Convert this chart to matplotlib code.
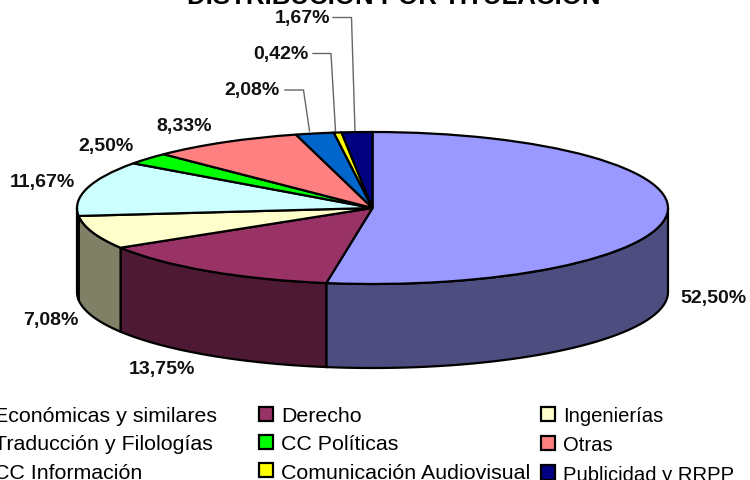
import numpy as np
import matplotlib
matplotlib.use("Agg")
import matplotlib.pyplot as plt
from matplotlib.patches import Patch, Polygon

plt.rcParams['font.family'] = ['Liberation Sans', 'DejaVu Sans']

# Datos
titulaciones = ["Económicas y similares", "Derecho", "Ingenierías", "Traducción y Filologías",
                "CC Políticas", "Otras", "CC Información", "Comunicación Audiovisual", "Publicidad y RRPP"]
porcentajes = [52.50, 13.75, 7.08, 11.67, 2.50, 8.33, 2.08, 0.42, 1.67]
colores = ["#9999FF", "#993366", "#FFFFCC", "#CCFFFF", "#00FF00", "#FF8080", "#0066CC", "#FFFF00", "#000080"]
colores_lado = ["#4D4D80", "#4D1933", "#808066", "#668080", "#008000", "#804040", "#003366", "#808000", "#000040"]

# Geometria do disco em pixeis
W, H = 750, 481
cx, cy, rx, ry = 372.5, 209, 295.5, 76
grosor = 84 / ry

fig = plt.figure(figsize=(7.5, 4.81), dpi=100)
ax = fig.add_axes([0, 0, 1, 1])

ax.pie(porcentajes, colors=colores, startangle=90, counterclock=False, radius=1,
       wedgeprops={'edgecolor': 'black', 'linewidth': 1.6, 'zorder': 3})
ax.set_aspect('auto')
ax.set_xlim(-cx / rx, (W - cx) / rx)
ax.set_ylim((cy - H) / ry, cy / ry)

# Lado do disco (so a metade de baixo)
fin = 90 - 3.6 * np.cumsum(porcentajes)
ini = fin + 3.6 * np.array(porcentajes)
for a1, a2, c in zip(ini, fin, colores_lado):
    a1, a2 = min(a1, 0), max(a2, -180)
    if a1 <= a2:
        continue
    t = np.radians(np.linspace(a1, a2, 80))
    xs = np.cos(t)
    ys = np.sin(t)
    pts = np.r_[np.c_[xs, ys], np.c_[xs[::-1], ys[::-1] - grosor]]
    ax.add_patch(Polygon(pts, closed=True, facecolor=c, edgecolor='black', linewidth=1.6, zorder=2))


def px(x, y):
    return (x - cx) / rx, (cy - y) / ry


# Etiquetas de porcentaje
pos_etiquetas = [(713, 298), (162, 370), (50.5, 320), (42.5, 183), (106, 146), (184, 126), (252, 90), (280.5, 54), (303, 18)]
for v, (x, y) in zip(porcentajes, pos_etiquetas):
    ax.text(*px(x, y), f"{v:.2f}%".replace('.', ','), ha='center', va='center',
            fontsize=14, fontweight='bold', color='#111111')

# Lineas guia
guias = [[(285, 91), (303.5, 91), (309.5, 132)], [(313, 54.5), (331, 54.5), (335.5, 132)], [(333, 18.5), (351.5, 18.5), (355, 132)]]
for pts in guias:
    q = [px(*p) for p in pts]
    ax.plot([p[0] for p in q], [p[1] for p in q], color='#666666', linewidth=1, zorder=1)

ax.text(*px(394, 3.5), "DISTRIBUCIÓN POR TITULACIÓN", ha='center', va='baseline',
        fontsize=18.6, fontweight='bold', color='black')

# Leyenda en tres columnas (a terceira tem letra mais estreita no original)
col_x = [-28, 258.5, 540.5]
col_fs = [15.4, 15.4, 14.6]
for i, (x0, fs) in enumerate(zip(col_x, col_fs)):
    h = [Patch(facecolor=colores[j], edgecolor='black', linewidth=1.6, label=titulaciones[j]) for j in range(i, 9, 3)]
    em = fs * 100 / 72
    fig.legend(handles=h, loc='upper left', bbox_to_anchor=(x0 / W, 1 - 407.3 / H), bbox_transform=fig.transFigure,
               frameon=False, fontsize=fs, handlelength=14 / em, handleheight=14 / em, handletextpad=8.5 / em,
               labelspacing=(28 - 0.88 * em) / em, borderpad=0, borderaxespad=0)

plt.savefig("out.png", dpi=100)
